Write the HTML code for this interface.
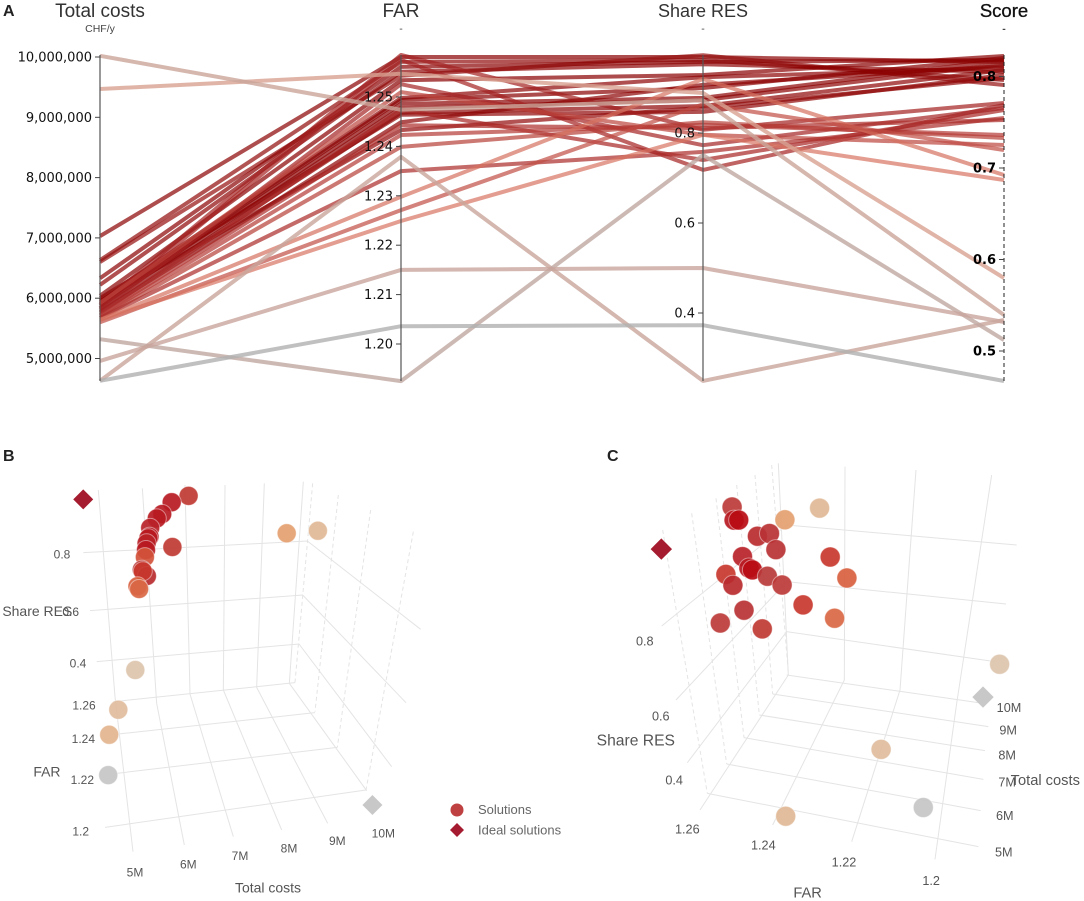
<!DOCTYPE html>
<html lang="en">
<head>
<meta charset="utf-8">
<title>Parallel coordinates and 3D scatter of solutions</title>
<style>
html,body{margin:0;padding:0;background:#fff;width:1084px;height:901px;overflow:hidden}
svg{display:block;filter:blur(.35px)}
text{font-family:"Liberation Sans",sans-serif}
.hdr{font-size:19px;fill:#333;text-anchor:middle}
.unit{font-size:10.5px;fill:#444;text-anchor:middle}
.tick{font-family:"DejaVu Sans",sans-serif;font-size:13px;fill:#111;text-anchor:end}
.tick-b{font-family:"DejaVu Sans",sans-serif;font-size:13px;font-weight:bold;fill:#000;text-anchor:end}
.letter{font-size:16px;font-weight:bold;fill:#222}
.g line,.g polyline{fill:none;stroke:#e4e4e4;stroke-width:1;vector-effect:non-scaling-stroke}
.g .d{stroke-dasharray:4 3}
.l{font-size:36px;fill:#555}
.lc{font-size:38px;fill:#555}
.t{font-size:42px;fill:#555}
.tc{font-size:47px;fill:#555}
</style>
</head>
<body>
<svg id="chart" width="1084" height="901" viewBox="0 0 1084 901" xmlns="http://www.w3.org/2000/svg">
  <rect width="1084" height="901" fill="#fff"/>
  <g id="panel-a">
    <text class="letter" x="3" y="16">A</text>
    <text class="hdr" x="100" y="17">Total costs</text>
    <text class="unit" x="100" y="32">CHF/y</text>
    <text class="hdr" x="401" y="17">FAR</text>
    <text class="unit" x="401" y="32">-</text>
    <text class="hdr" x="703" y="17" style="font-size:18px">Share RES</text>
    <text class="unit" x="703" y="32">-</text>
    <text class="hdr" x="1004" y="17" style="font-size:18.5px;fill:#111;font-weight:500;stroke:#111;stroke-width:.3">Score</text>
    <text class="unit" x="1004" y="32" style="font-weight:bold">-</text>
    <g id="pc-lines"></g>
    <g id="pc-axes"></g>
  </g>

  <g id="panel-b">
    <text class="letter" x="3" y="461">B</text>
    <g class="g" transform="translate(0 440) scale(.33333)">
      <polyline points="295,150 345,770 399,1235"/>
      <polyline points="427,145 470,790 553,1215"/>
      <polyline points="555,135 570,762 700,1190"/>
      <polyline points="675,135 670,750 845,1170"/>
      <polyline points="793,130 770,742 983,1150"/>
      <polyline points="910,125 868,730 1100,1052"/>
      <line class="d" x1="938" y1="130" x2="885" y2="728"/>
      <line class="d" x1="1015" y1="165" x2="945" y2="815"/>
      <line class="d" x1="1112" y1="210" x2="1012" y2="922"/>
      <line class="d" x1="1240" y1="275" x2="1098" y2="1050"/>
      <line x1="315" y1="1162" x2="1098" y2="1050"/>
      <line x1="350" y1="1000" x2="1012" y2="922"/>
      <line x1="355" y1="882" x2="945" y2="818"/>
      <line x1="340" y1="785" x2="885" y2="728"/>
      <polyline points="250,338 922,303 1262,568"/>
      <polyline points="270,512 908,465 1218,788"/>
      <polyline points="290,665 897,612 1175,980"/>
    </g>
    <g transform="translate(0 440) scale(.33333)">
      <text class="l" x="161" y="355">0.8</text>
      <text class="t" x="7" y="528">Share RES</text>
      <text class="l" x="187" y="528">0.6</text>
      <text class="l" x="209" y="683">0.4</text>
      <text class="l" x="217" y="808">1.26</text>
      <text class="l" x="215" y="909">1.24</text>
      <text class="l" x="212" y="1032">1.22</text>
      <text class="l" x="217" y="1187">1.2</text>
      <text class="t" x="100" y="1010">FAR</text>
      <text class="l" x="380" y="1310">5M</text>
      <text class="l" x="540" y="1285">6M</text>
      <text class="l" x="695" y="1260">7M</text>
      <text class="l" x="842" y="1237">8M</text>
      <text class="l" x="987" y="1215">9M</text>
      <text class="l" x="1115" y="1193">10M</text>
      <text class="t" x="705" y="1357">Total costs</text>
    </g>
    <g id="b-points"></g>
  </g>

  <g id="panel-c">
    <text class="letter" x="607" y="461">C</text>
    <g class="g" transform="translate(590 440) scale(.33333)">
      <polyline points="565,70 595,705 330,1110"/>
      <polyline points="765,80 763,720 548,1155"/>
      <polyline points="978,90 930,750 785,1205"/>
      <polyline points="1205,105 1100,790 1035,1258"/>
      <line x1="590" y1="705" x2="1180" y2="790"/>
      <line x1="548" y1="762" x2="1195" y2="860"/>
      <line x1="508" y1="825" x2="1185" y2="932"/>
      <line x1="462" y1="893" x2="1180" y2="1018"/>
      <line x1="410" y1="972" x2="1172" y2="1112"/>
      <line x1="352" y1="1060" x2="1165" y2="1220"/>
      <line class="d" x1="545" y1="75" x2="595" y2="700"/>
      <line class="d" x1="495" y1="105" x2="548" y2="762"/>
      <line class="d" x1="440" y1="135" x2="508" y2="825"/>
      <line class="d" x1="378" y1="175" x2="462" y2="893"/>
      <line class="d" x1="305" y1="220" x2="410" y2="972"/>
      <line class="d" x1="218" y1="270" x2="352" y2="1060"/>
      <polyline points="1280,315 590,255 215,558"/>
      <polyline points="1248,492 590,425 258,780"/>
      <polyline points="1215,665 590,575 292,968"/>
    </g>
    <g transform="translate(590 440) scale(.33333)">
      <text class="lc" x="138" y="616">0.8</text>
      <text class="lc" x="186" y="841">0.6</text>
      <text class="lc" x="226" y="1033">0.4</text>
      <text class="tc" x="20" y="917">Share RES</text>
      <text class="lc" x="1220" y="816">10M</text>
      <text class="lc" x="1228" y="884">9M</text>
      <text class="lc" x="1225" y="958">8M</text>
      <text class="lc" x="1225" y="1040">7M</text>
      <text class="tc" x="1262" y="1035" style="font-size:44px">Total costs</text>
      <text class="lc" x="1218" y="1140">6M</text>
      <text class="lc" x="1215" y="1250">5M</text>
      <text class="lc" x="255" y="1180">1.26</text>
      <text class="lc" x="483" y="1228">1.24</text>
      <text class="lc" x="725" y="1280">1.22</text>
      <text class="lc" x="997" y="1335">1.2</text>
      <text class="tc" x="610" y="1372" style="font-size:44px">FAR</text>
    </g>
    <g id="c-points"></g>
  </g>

  <g>
    <circle cx="457" cy="810" r="6.5" fill="#bf4040"/>
    <text x="478" y="814" font-size="13" fill="#666">Solutions</text>
    <polygon points="457,823 464,830 457,837 450,830" fill="#a51c30"/>
    <text x="478" y="834.5" font-size="13" fill="#666">Ideal solutions</text>
  </g>
</svg>

<script>
// Panel A: one entry per solution
const lineCost = [7.03,6.63,6.60,6.33,6.22,6.04,5.97,5.94,5.90,5.87,5.82,5.77,6.00,5.95,5.89,5.84,5.80,5.75,5.72,5.67,5.92,5.70,5.67,5.64,5.60,5.64,9.47,10.02,4.63,5.32,4.96,4.63];
const lineFar = [1.2581,1.2571,1.2543,1.2561,1.2551,1.2534,1.2498,1.2494,1.2486,1.2478,1.2468,1.2449,1.2464,1.2433,1.2585,1.2575,1.2526,1.2474,1.2443,1.2399,1.2510,1.2423,1.2350,1.2298,1.2271,1.2249,1.2547,1.2474,1.2379,1.1925,1.2150,1.2036];
const lineShare = [.969,.962,.973,.958,.953,.929,.924,.900,.878,.873,.860,.907,.847,.856,.807,.718,.773,.740,.811,.824,.796,.818,.758,.920,.864,.796,.889,.873,.249,.751,.500,.373];
const lineScore = [.8158,.7962,.7907,.818,.8049,.8224,.8093,.8202,.818,.8137,.8071,.8115,.8016,.7984,.771,.7689,.7656,.7634,.7525,.7328,.7251,.7361,.7546,.6923,.7197,.6869,.5798,.5393,.5339,.512,.5317,.4672];

const costTicks = [5,6,7,8,9,10];
const costTickLabels = ['5,000,000','6,000,000','7,000,000','8,000,000','9,000,000','10,000,000'];
const farTicks = [1.20,1.21,1.22,1.23,1.24,1.25];
const farTickLabels = ['1.20','1.21','1.22','1.23','1.24','1.25'];
const shareTicks = [0.4,0.6,0.8];
const shareTickLabels = ['0.4','0.6','0.8'];
const scoreTicks = [0.5,0.6,0.7,0.8];
const scoreTickLabels = ['0.5','0.6','0.7','0.8'];

// Panel B: solutions (costs in millions)
const bCost = [7.30,6.90,6.66,6.53,6.35,6.32,6.27,6.25,6.22,6.93,6.20,6.07,6.20,6.14,5.95,6.06,9.56,10.33,5.68,5.28,5.00,4.95];
const bFar = [1.258,1.255,1.252,1.25,1.25,1.248,1.252,1.245,1.245,1.23,1.24,1.245,1.24,1.235,1.24,1.225,1.25,1.245,1.24,1.22,1.22,1.205];
const bShare = [.944,.947,.93,.93,.90,.884,.853,.883,.861,.964,.871,.797,.808,.858,.776,.866,.85,.884,.50,.505,.424,.39];
const bScore = [.74,.80,.80,.80,.79,.80,.80,.79,.80,.74,.70,.76,.78,.72,.69,.68,.60,.55,.52,.54,.56,.47];
const bIdealCost = [4.79,11.14];
const bIdealFar = [1.26,1.20];
const bIdealShare = [.944,.262];
const bIdealKind = ['ideal','nadir'];

// Panel C: solutions (costs in millions)
const cCost = [6.5,6.3,6.4,6.2,6.4,6.0,5.9,5.8,5.8,6.0,5.7,5.9,5.7,6.6,6.2,5.9,5.7,5.6,5.7,5.6,9.5,10,9,6,5.2,5];
const cFar = [1.244,1.243,1.242,1.236,1.233,1.23,1.24,1.238,1.237,1.246,1.243,1.233,1.228,1.216,1.21,1.223,1.213,1.24,1.248,1.235,1.24,1.231,1.177,1.204,1.232,1.189];
const cShare = [.963,.946,.941,.925,.923,.916,.888,.87,.867,.826,.825,.851,.852,.88,.866,.797,.795,.775,.722,.737,.728,.738,.512,.462,.302,.413];
const cScore = [.75,.80,.82,.78,.77,.77,.79,.80,.82,.72,.78,.76,.75,.72,.69,.72,.68,.77,.75,.74,.60,.55,.52,.54,.55,.47];
const cIdealCost = [5,9.5];
const cIdealFar = [1.261,1.185];
const cIdealShare = [.933,.381];
const cIdealKind = ['ideal','nadir'];

const NS = 'http://www.w3.org/2000/svg';

function linear(d0, d1, r0, r1) {
  return function (v) { return r0 + (v - d0) * (r1 - r0) / (d1 - d0); };
}
const axisX = [100, 401, 703, 1004];
const yCost = linear(5, 10, 358.5, 57);
const yFar = linear(1.20, 1.25, 344, 97);
const yShare = linear(0.4, 0.8, 313, 133);
const yScore = linear(0.5, 0.8, 351, 76.5);

function hex(c) {
  return [parseInt(c.slice(1, 3), 16), parseInt(c.slice(3, 5), 16), parseInt(c.slice(5, 7), 16)];
}
function ramp(stops, v) {
  if (v <= stops[0][0]) return stops[0][1];
  for (let i = 1; i < stops.length; i++) {
    if (v <= stops[i][0]) {
      const t = (v - stops[i - 1][0]) / (stops[i][0] - stops[i - 1][0]);
      const a = hex(stops[i - 1][1]);
      const b = hex(stops[i][1]);
      return 'rgb(' + a.map(function (x, k) { return Math.round(x + (b[k] - x) * t); }).join(',') + ')';
    }
  }
  return stops[stops.length - 1][1];
}
const lineStops = [[.467,'#b0b0b0'],[.52,'#c4a69e'],[.58,'#d8a292'],[.69,'#d87462'],[.73,'#b8403a'],[.77,'#a32020'],[.80,'#900808'],[.82,'#8a0000']];
const pointStops = [[.47,'#c6c6c6'],[.52,'#dcc4ac'],[.56,'#e3b48e'],[.60,'#e4a070'],[.69,'#d8603f'],[.72,'#c8372c'],[.76,'#b83a3a'],[.80,'#b81a22'],[.82,'#b80c14']];

// Panel A lines
const linesGroup = document.getElementById('pc-lines');
lineCost.forEach(function (c, i) {
  const pl = document.createElementNS(NS, 'polyline');
  const ys = [yCost(c), yFar(lineFar[i]), yShare(lineShare[i]), yScore(lineScore[i])];
  pl.setAttribute('points', ys.map(function (y, k) { return axisX[k] + ',' + y.toFixed(1); }).join(' '));
  pl.setAttribute('fill', 'none');
  pl.setAttribute('stroke', ramp(lineStops, lineScore[i]));
  pl.setAttribute('stroke-width', '4');
  pl.setAttribute('stroke-opacity', lineScore[i] < .6 ? '.8' : '.7');
  pl.setAttribute('stroke-linejoin', 'round');
  
  
  linesGroup.appendChild(pl);
});

// Panel A axes
const axesGroup = document.getElementById('pc-axes');
function drawAxis(x, scale, ticks, labels, cls, dashed) {
  const ax = document.createElementNS(NS, 'line');
  ax.setAttribute('x1', x);
  ax.setAttribute('x2', x);
  ax.setAttribute('y1', 55);
  ax.setAttribute('y2', 381);
  ax.setAttribute('stroke', dashed ? '#222' : '#555');
  ax.setAttribute('stroke-width', dashed ? '1' : '1.2');
  if (dashed) ax.setAttribute('stroke-dasharray', '4 3');
  
  
  axesGroup.appendChild(ax);
  ticks.forEach(function (t, i) {
    const y = scale(t);
    const tk = document.createElementNS(NS, 'line');
    tk.setAttribute('x1', x - 5);
    tk.setAttribute('x2', x);
    tk.setAttribute('y1', y);
    tk.setAttribute('y2', y);
    tk.setAttribute('stroke', '#444');
    
    
    axesGroup.appendChild(tk);
    const lb = document.createElementNS(NS, 'text');
    lb.setAttribute('x', x - 8);
    lb.setAttribute('y', y + 4.5);
    lb.setAttribute('class', cls);
    
    
    lb.textContent = labels[i];
    axesGroup.appendChild(lb);
  });
}
drawAxis(axisX[0], yCost, costTicks, costTickLabels, 'tick', false);
drawAxis(axisX[1], yFar, farTicks, farTickLabels, 'tick', false);
drawAxis(axisX[2], yShare, shareTicks, shareTickLabels, 'tick', false);
drawAxis(axisX[3], yScore, scoreTicks, scoreTickLabels, 'tick-b', true);

// Panels B and C: 3D axis functions
function projectB(cost, far, share) {
  const u = cost - 5, v = share - 0.4, w = far - 1.2;
  return [110 + 42 * u - 33 * v, 782 - 3 * u - 300 * v - 2000 * w];
}
function projectC(cost, far, share) {
  const u = cost - 5, v = share - 0.4, w = far - 1.2;
  return [887 + 10 * u - 40 * v - 3350 * w, 805 - 28 * u - 400 * v - 700 * w];
}

function drawScatter(groupId, project, costs, fars, shares, scores, r, idealCosts, idealFars, idealShares, idealKinds, half) {
  const group = document.getElementById(groupId);
  costs.forEach(function (c, i) {
    const p = project(c, fars[i], shares[i]);
    const dot = document.createElementNS(NS, 'circle');
    dot.setAttribute('cx', p[0].toFixed(1));
    dot.setAttribute('cy', p[1].toFixed(1));
    dot.setAttribute('r', r);
    dot.setAttribute('fill', ramp(pointStops, scores[i]));
    dot.setAttribute('fill-opacity', '.92');
    dot.setAttribute('stroke', 'rgba(255,255,255,.45)');
    dot.setAttribute('stroke-width', '1');
    
    
    group.appendChild(dot);
  });
  idealCosts.forEach(function (c, i) {
    const p = project(c, idealFars[i], idealShares[i]);
    const d = document.createElementNS(NS, 'polygon');
    d.setAttribute('points', [
      p[0] + ',' + (p[1] - half),
      (p[0] + half) + ',' + p[1],
      p[0] + ',' + (p[1] + half),
      (p[0] - half) + ',' + p[1]
    ].join(' '));
    d.setAttribute('fill', idealKinds[i] === 'ideal' ? '#a51c30' : '#c8c8c8');
    
    
    group.appendChild(d);
  });
}
drawScatter('b-points', projectB, bCost, bFar, bShare, bScore, 9.5, bIdealCost, bIdealFar, bIdealShare, bIdealKind, 10);
drawScatter('c-points', projectC, cCost, cFar, cShare, cScore, 10, cIdealCost, cIdealFar, cIdealShare, cIdealKind, 10.7);
</script>
</body>
</html>
